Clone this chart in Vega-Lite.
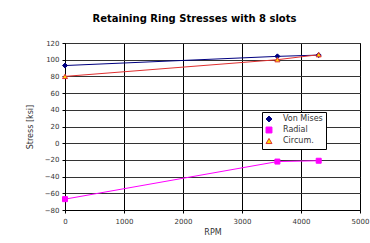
{
  "$schema": "https://vega.github.io/schema/vega-lite/v6.json",
  "autosize": "none",
  "width": 295,
  "height": 167,
  "padding": {"left": 65, "top": 43, "right": 10, "bottom": 33},
  "background": "white",
  "title": {
    "text": "Retaining Ring Stresses with 8 slots",
    "font": "DejaVu Sans",
    "fontSize": 10,
    "fontWeight": "bold",
    "color": "black",
    "anchor": "middle",
    "dx": -18,
    "offset": 15
  },
  "config": {
    "view": {"stroke": "black", "strokeWidth": 1},
    "axis": {
      "labelFont": "DejaVu Sans",
      "labelFontSize": 7,
      "labelColor": "#333333",
      "titleFont": "DejaVu Sans",
      "titleFontSize": 8,
      "titleFontWeight": "normal",
      "titleColor": "#333333",
      "domainColor": "black",
      "tickColor": "black",
      "tickSize": 3
    }
  },
  "data": {
    "values": [
      {"rpm": 0, "stress": 93, "series": "Von Mises"},
      {"rpm": 3600, "stress": 104, "series": "Von Mises"},
      {"rpm": 4300, "stress": 105.5, "series": "Von Mises"},
      {"rpm": 0, "stress": -67, "series": "Radial"},
      {"rpm": 3600, "stress": -22, "series": "Radial"},
      {"rpm": 4300, "stress": -21, "series": "Radial"},
      {"rpm": 0, "stress": 80, "series": "Circum."},
      {"rpm": 3600, "stress": 100, "series": "Circum."},
      {"rpm": 4300, "stress": 106, "series": "Circum."}
    ]
  },
  "encoding": {
    "x": {
      "field": "rpm", "type": "quantitative", "title": "RPM",
      "scale": {"domain": [0, 5000], "nice": false},
      "axis": {"values": [0, 1000, 2000, 3000, 4000, 5000], "format": "d", "grid": true, "gridColor": "black", "gridOpacity": 1, "labelPadding": 4, "titlePadding": 4, "labelFlush": false}
    },
    "y": {
      "field": "stress", "type": "quantitative", "title": "Stress [ksi]",
      "scale": {"domain": [-80, 120], "nice": false, "zero": false},
      "axis": {"values": [-80, -60, -40, -20, 0, 20, 40, 60, 80, 100, 120], "grid": true, "gridColor": "#333333", "gridOpacity": 1, "labelPadding": 3, "titlePadding": 10}
    },
    "stroke": {
      "field": "series", "type": "nominal",
      "scale": {"domain": ["Von Mises", "Radial", "Circum."], "range": ["#000080", "#FF00FF", "#E03030"]},
      "legend": {
        "title": null, "orient": "none", "legendX": 197, "legendY": 69,
        "strokeColor": "black", "fillColor": "white", "padding": 3,
        "labelFont": "DejaVu Sans", "labelFontSize": 8, "labelColor": "#333333",
        "symbolSize": 35, "rowPadding": 1, "symbolStrokeWidth": 1,
        "labelOffset": 10
      }
    }
  },
  "layer": [
    {"mark": {"type": "line", "strokeWidth": 1}, "encoding": {}},
    {
      "mark": {"type": "point", "filled": false, "size": 25, "strokeWidth": 1, "opacity": 1},
      "encoding": {
        "fill": {
          "field": "series", "type": "nominal",
          "scale": {"domain": ["Von Mises", "Radial", "Circum."], "range": ["#000080", "#FF00FF", "#FFE000"]}
        },
        "shape": {
          "field": "series", "type": "nominal",
          "scale": {"domain": ["Von Mises", "Radial", "Circum."], "range": ["diamond", "square", "triangle-up"]}
        }
      }
    }
  ]
}
